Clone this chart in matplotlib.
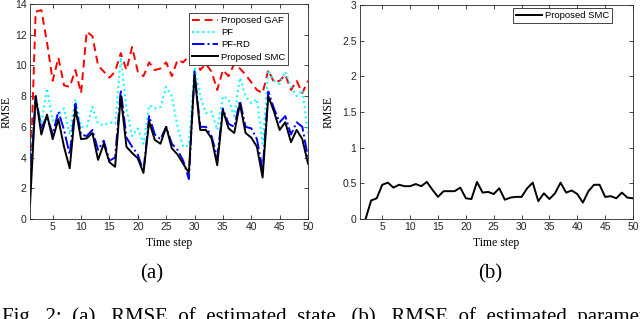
import numpy as np
import matplotlib.pyplot as plt

# time steps
steps = np.arange(1, 51)

# RMSE of estimated state, panel (a)
gaf = [2.0, 13.5, 13.6, 11.5, 9.0, 10.5, 8.7, 8.6, 9.7, 8.2,
       12.2, 11.9, 10.0, 9.6, 9.2, 9.6, 10.8, 9.7, 11.2, 9.6,
       9.3, 10.2, 9.7, 9.8, 10.2, 9.3, 10.35, 10.2, 10.6, 11.0,
       9.7, 10.1, 9.6, 8.4, 9.7, 9.3, 10.1, 9.8, 9.4, 8.9,
       8.4, 8.2, 9.7, 8.9, 9.0, 9.4, 8.4, 9.0, 8.2, 9.0]
pf = [3.5, 7.8, 6.2, 8.5, 6.4, 6.8, 7.2, 5.5, 7.8, 6.0,
      6.0, 7.3, 6.2, 6.1, 6.3, 6.2, 10.5, 7.2, 5.4, 5.9,
      4.9, 7.4, 7.2, 7.3, 8.6, 8.0, 6.0, 4.7, 4.8, 9.9,
      8.0, 6.9, 7.0, 5.8, 8.0, 7.8, 6.7, 9.2, 8.0, 7.55,
      7.8, 4.9, 9.7, 9.0, 8.8, 9.6, 8.6, 8.0, 8.4, 5.6]
pf_rd = [2.1, 8.0, 5.9, 6.7, 5.5, 7.0, 5.8, 4.2, 7.5, 5.5,
         5.4, 5.8, 4.5, 5.1, 3.8, 4.0, 8.4, 5.3, 4.7, 4.2,
         3.1, 6.7, 5.5, 5.2, 6.0, 4.9, 4.5, 3.8, 2.6, 9.6,
         6.0, 6.0, 5.4, 4.0, 7.2, 6.2, 6.0, 7.7, 6.0, 5.9,
         5.2, 3.2, 8.3, 7.2, 6.3, 6.7, 5.5, 6.3, 6.0, 4.0]
smc = [0.9, 8.0, 5.5, 6.8, 5.2, 6.5, 4.7, 3.3, 7.2, 5.2,
       5.25, 5.6, 3.85, 4.9, 3.7, 3.4, 8.0, 4.7, 4.3, 3.95,
       3.0, 6.35, 5.15, 4.9, 6.0, 4.6, 4.2, 3.6, 3.0, 9.4,
       5.8, 5.8, 5.25, 3.5, 7.1, 5.9, 5.6, 7.5, 5.6, 5.3,
       4.7, 2.7, 8.0, 7.0, 5.8, 6.3, 5.0, 5.8, 5.2, 3.6]

# RMSE of estimated parameter, panel (b), starts at step 2
steps_b = np.arange(2, 51)
smc_b = [0.0, 0.26, 0.29, 0.48, 0.51, 0.44, 0.48, 0.46, 0.46, 0.49,
         0.46, 0.52, 0.41, 0.31, 0.39, 0.39, 0.39, 0.44, 0.29, 0.28,
         0.52, 0.37, 0.38, 0.35, 0.43, 0.27, 0.30, 0.31, 0.31, 0.43,
         0.51, 0.25, 0.36, 0.28, 0.36, 0.51, 0.37, 0.40, 0.35, 0.23,
         0.39, 0.48, 0.48, 0.31, 0.32, 0.29, 0.37, 0.30, 0.29]

serif = ['Liberation Serif', 'DejaVu Serif']
sans = ['Liberation Sans', 'DejaVu Sans']
tick_col = '#262626'


def style_axes(ax, ylab_x):
    ax.tick_params(direction='in', top=True, right=True, length=3,
                   width=0.6, labelsize=7.5, colors=tick_col, pad=2.5)
    for lab in ax.get_xticklabels() + ax.get_yticklabels():
        lab.set_family(sans)
    for s in ax.spines.values():
        s.set_linewidth(0.6)
        s.set_color(tick_col)
    ax.set_xlabel('Time step', family=serif, fontsize=8.5)
    ax.set_ylabel('RMSE', family=serif, fontsize=8.5)
    ax.xaxis.set_label_coords(0.5, -0.086)
    ax.yaxis.set_label_coords(ylab_x, 0.5)


def make_legend(ax, anchor):
    leg = ax.legend(loc='upper right', bbox_to_anchor=anchor,
                    prop={'family': sans, 'size': 6.8}, fancybox=False,
                    edgecolor=tick_col, framealpha=1, handlelength=2.8,
                    borderpad=0.3, labelspacing=0.35, handletextpad=0.3,
                    borderaxespad=0)
    leg.get_frame().set_linewidth(0.6)
    return leg


fig = plt.figure(figsize=(6.4, 3.19), dpi=100)

ax1 = fig.add_axes([30 / 640, 1 - 219 / 319, 278 / 640, 215 / 319])
ax1.plot(steps, gaf, color='red', ls=(0, (4, 2.5)), lw=1.4, label='Proposed GAF')
ax1.plot(steps, pf, color='cyan', ls=':', lw=1.4, label='PF')
ax1.plot(steps, pf_rd, color='blue', ls='-.', lw=1.4, label='PF-RD')
ax1.plot(steps, smc, color='black', ls='-', lw=1.4, label='Proposed SMC')
ax1.set_xlim(1, 50)
ax1.set_ylim(0, 14)
ax1.set_xticks(np.arange(5, 51, 5))
ax1.set_yticks(np.arange(0, 15, 2))
style_axes(ax1, -0.064)
make_legend(ax1, (0.928, 0.958))

ax2 = fig.add_axes([360 / 640, 1 - 219 / 319, 273 / 640, 214 / 319])
ax2.plot(steps_b, smc_b, color='black', lw=1.4, label='Proposed SMC')
ax2.set_xlim(1, 50)
ax2.set_ylim(0, 3)
ax2.set_xticks(np.arange(5, 51, 5))
ax2.set_yticks(np.arange(0, 3.01, 0.5))
ax2.set_yticklabels(['0', '0.5', '1', '1.5', '2', '2.5', '3'])
style_axes(ax2, -0.092)
make_legend(ax2, (0.923, 0.986))

# sub-figure labels and the (cut) caption
fig.text(152 / 640, 1 - 274 / 319, '(a)', family=serif, fontsize=15,
         ha='center', va='center')
fig.text(490 / 640, 1 - 274 / 319, '(b)', family=serif, fontsize=15,
         ha='center', va='center')
fig.text(2 / 640, 1 - 322 / 319,
         'Fig.  2:  (a).  RMSE  of  estimated  state.  (b).  RMSE  of  estimated  parameter.',
         family=serif, fontsize=15, ha='left', va='baseline')

fig.savefig('out.png', dpi=100)
